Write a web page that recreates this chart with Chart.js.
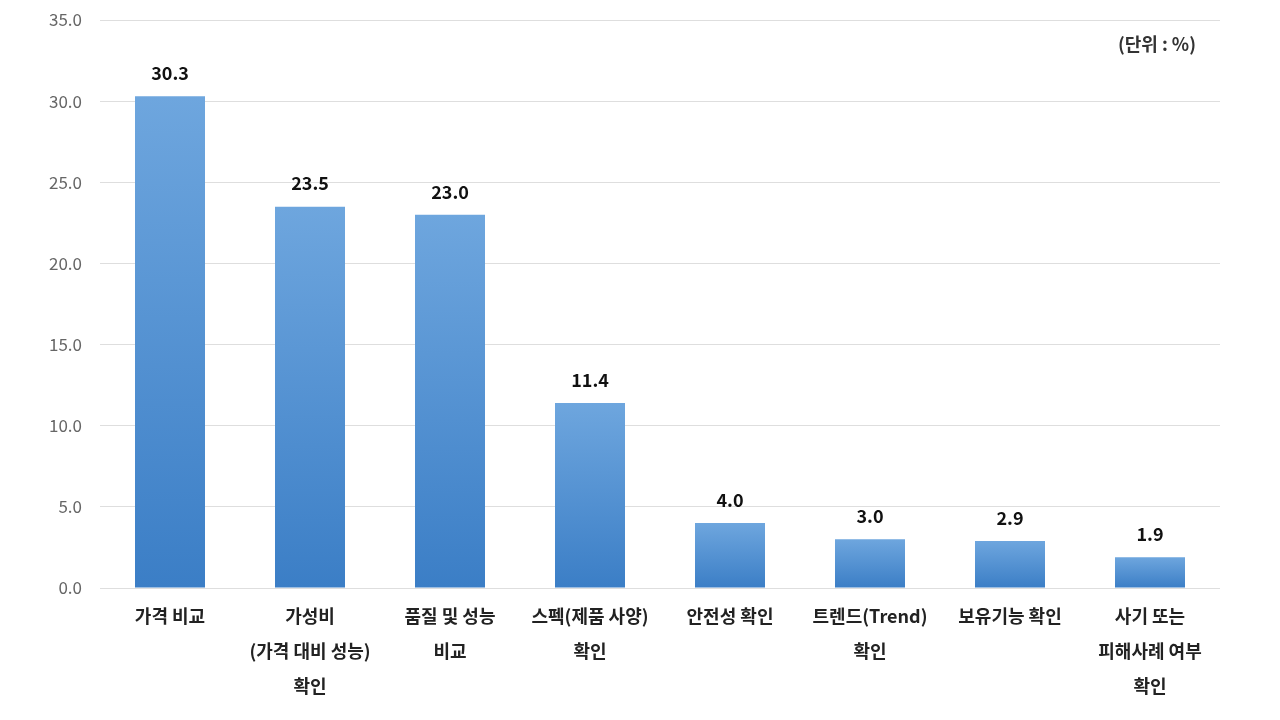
<!DOCTYPE html>
<html>
<head>
<meta charset="utf-8">
<script src="https://cdn.jsdelivr.net/npm/chart.js@4/dist/chart.umd.min.js"></script>
<style>
  html, body { margin: 0; padding: 0; background: #ffffff; }
  #wrap { width: 1280px; height: 720px; position: relative; }
</style>
</head>
<body>
<div id="wrap"><canvas id="c" width="1280" height="720"></canvas></div>
<script>
const categories = [
  "가격 비교",
  ["가성비", "(가격 대비 성능)", "확인"],
  ["품질 및 성능", "비교"],
  ["스펙(제품 사양)", "확인"],
  "안전성 확인",
  ["트렌드(Trend)", "확인"],
  "보유기능 확인",
  ["사기 또는", "피해사례 여부", "확인"]
];
const values = [30.3, 23.5, 23.0, 11.4, 4.0, 3.0, 2.9, 1.9];
const yTicks = [0, 5, 10, 15, 20, 25, 30, 35];
const unitLabel = "(단위 : %)";

const FONT = "'Noto Sans CJK KR', 'Noto Sans', sans-serif";

function barGradient(ctx) {
  const chart = ctx.chart;
  if (!chart.chartArea || ctx.dataIndex === undefined) return '#5592d4';
  const y = chart.scales.y;
  const top = y.getPixelForValue(values[ctx.dataIndex]);
  const bottom = y.getPixelForValue(0);
  const g = chart.ctx.createLinearGradient(0, top, 0, bottom);
  g.addColorStop(0, '#6ea6de');
  g.addColorStop(1, '#3b7ec6');
  return g;
}

const labelPlugin = {
  id: 'valueLabels',
  afterDatasetsDraw(chart) {
    const ctx = chart.ctx;
    const meta = chart.getDatasetMeta(0);
    ctx.save();
    ctx.font = "bold 18px " + FONT;
    ctx.fillStyle = '#111111';
    ctx.textAlign = 'center';
    ctx.textBaseline = 'middle';
    meta.data.forEach((bar, i) => {
      ctx.fillText(values[i].toFixed(1), bar.x, bar.y - 23);
    });
    ctx.font = "bold 18px " + FONT;
    ctx.fillStyle = '#333333';
    ctx.textAlign = 'right';
    ctx.textBaseline = 'middle';
    ctx.fillText(unitLabel, 1196, 44);
    ctx.restore();
  }
};

new Chart(document.getElementById('c'), {
  type: 'bar',
  data: {
    labels: categories,
    datasets: [{
      data: values,
      backgroundColor: barGradient,
      borderWidth: 0,
      categoryPercentage: 0.5,
      barPercentage: 1.0
    }]
  },
  options: {
    responsive: false,
    animation: false,
    devicePixelRatio: 1,
    layout: { padding: { top: 20, right: 60, left: 0, bottom: 0 } },
    plugins: { legend: { display: false }, tooltip: { enabled: false } },
    scales: {
      x: {
        grid: { display: false },
        border: { display: false },
        ticks: {
          color: '#222222',
          font: { family: FONT, size: 18, weight: 'bold', lineHeight: 1.93 },
          padding: 3,
          maxRotation: 0,
          autoSkip: false
        },
        afterFit(scale) { scale.height = 132; scale.paddingTop = 0; scale.paddingBottom = 0; }
      },
      y: {
        min: 0,
        max: 35,
        afterBuildTicks(scale) { scale.ticks = yTicks.map(v => ({ value: v })); },
        grid: { color: '#dedede', lineWidth: 1, drawTicks: false },
        border: { display: false },
        ticks: {
          color: '#666666',
          font: { family: FONT, size: 17 },
          padding: 18,
          callback: v => Number(v).toFixed(1)
        },
        afterFit(scale) { scale.width = 100; scale.paddingTop = 0; scale.paddingBottom = 0; }
      }
    }
  },
  plugins: [labelPlugin]
});
</script>
</body>
</html>
